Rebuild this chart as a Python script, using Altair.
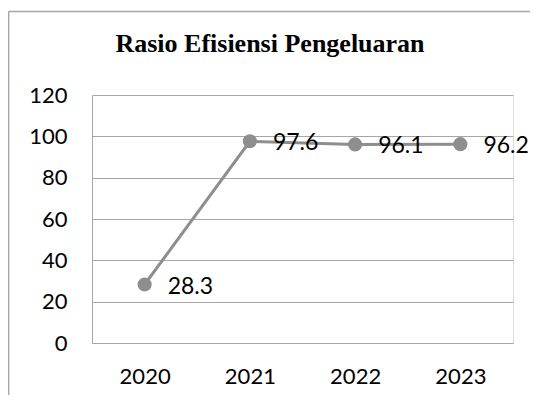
import altair as alt
import pandas as pd

years = ["2020", "2021", "2022", "2023"]
values = [28.3, 97.6, 96.1, 96.2]
y_ticks = [0, 20, 40, 60, 80, 100, 120]
title_main = "Rasio Efisiensi Pengeluaran"
title_top = "Tahun 2020-2023"

df = pd.DataFrame({"year": years, "value": values})

GRAY = "#8e8e8e"
LINE = "#a6a6a6"
FONT = "Lato"
SERIF = "Liberation Serif, Times New Roman, serif"

x_enc = alt.X("year:N", sort=years, scale=alt.Scale(type="point", padding=0.5),
              axis=alt.Axis(title=None, labelAngle=0, ticks=False, grid=False,
                            domainColor=LINE, labelFont=FONT, labelFontSize=22,
                            labelColor="#000000", labelPadding=23))
y_enc = alt.Y("value:Q", scale=alt.Scale(domain=[0, 120], nice=False),
              axis=alt.Axis(title=None, values=y_ticks, ticks=False, grid=True,
                            gridColor=LINE, domainColor=LINE, labelFont=FONT,
                            labelFontSize=22, labelColor="#000000", labelPadding=25))

base = alt.Chart(df)
line = base.mark_line(color=GRAY, strokeWidth=3).encode(x=x_enc, y=y_enc)
pts = base.mark_circle(color=GRAY, size=200, opacity=1).encode(x=x_enc, y=y_enc)
labels = base.mark_text(align="left", baseline="middle", dx=23, dy=2, font=FONT,
                        fontSize=23, color="#000000").encode(
    x=x_enc, y=y_enc, text=alt.Text("value:Q", format=".1f"))

tdf = pd.DataFrame({"t": [title_main]})
t1 = alt.Chart(tdf).mark_text(font=SERIF, fontWeight="bold", fontSize=26,
                              align="center", baseline="alphabetic", color="#000000").encode(
    x=alt.value(178), y=alt.value(-43), text="t:N")
tdf2 = pd.DataFrame({"t": [title_top]})
t2 = alt.Chart(tdf2).mark_text(font=SERIF, fontWeight="bold", fontSize=26,
                               align="center", baseline="alphabetic", color="#000000").encode(
    x=alt.value(192), y=alt.value(-90), text="t:N")

frame_v = alt.Chart(tdf).mark_rule(color=LINE, strokeWidth=1.8).encode(
    x=alt.value(-83.5), y=alt.value(-83.5), y2=alt.value(400))
frame_h = alt.Chart(tdf).mark_rule(color=LINE, strokeWidth=1.3).encode(
    x=alt.value(-83.5), x2=alt.value(438), y=alt.value(-83.5))

chart = alt.layer(frame_v, frame_h, t1, t2, line, pts, labels).properties(
    width=421, height=248,
    autosize=alt.AutoSizeParams(type="none"),
    padding={"left": 84, "top": 87, "right": 17, "bottom": 52},
).configure_view(stroke=None).configure(background="white")

chart.save("out.html", embed_options={"renderer": "svg", "actions": False})
